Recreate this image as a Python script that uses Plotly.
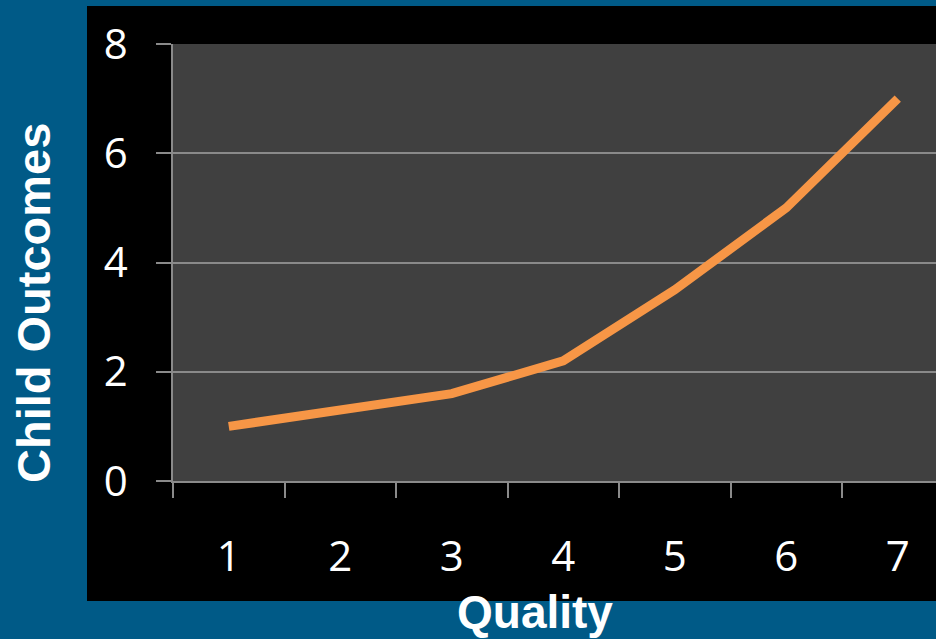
import plotly.graph_objects as go

quality = ["1", "2", "3", "4", "5", "6", "7"]
outcomes = [1.0, 1.3, 1.6, 2.2, 3.5, 5.0, 7.0]
y_ticks = [0, 2, 4, 6, 8]

W, H = 936, 639
L, R, T, B = 173, 0, 44, 158
pw, ph = W - L - R, H - T - B

def px_x(px):
    return (px - L) / pw

def px_y(py):
    return (H - B - py) / ph

fig = go.Figure()
fig.add_trace(go.Scatter(
    x=quality, y=outcomes, mode="lines",
    line=dict(color="#F79646", width=9),
    hoverinfo="skip", showlegend=False,
))

grid = "#8a8a8a"
fig.update_layout(
    width=W, height=H,
    margin=dict(l=L, r=R, t=T, b=B, pad=0),
    paper_bgcolor="#005A87",
    plot_bgcolor="rgba(0,0,0,0)",
    showlegend=False,
    shapes=[
        dict(type="rect", xref="paper", yref="paper", layer="below",
             x0=px_x(87), x1=px_x(940), y0=px_y(601), y1=px_y(6),
             fillcolor="#000000", line=dict(width=0)),
        dict(type="rect", xref="paper", yref="paper", layer="below",
             x0=0, x1=1.01, y0=0, y1=1,
             fillcolor="#404040", line=dict(width=0)),
    ],
    xaxis=dict(
        type="category", range=[-0.5, -0.5 + pw / 111.5],
        tickson="boundaries", ticks="outside", ticklen=15, tickwidth=1.5,
        tickcolor=grid, showline=True, linecolor=grid, linewidth=1.5,
        showgrid=False, zeroline=False,
        tickfont=dict(family="Open Sans", size=42, color="#ffffff"),
        ticklabelstandoff=38,
    ),
    yaxis=dict(
        range=[0, 8], tickvals=y_ticks, ticks="outside", ticklen=15,
        tickwidth=1.5, tickcolor=grid, showline=True, linecolor=grid,
        linewidth=1.5, showgrid=True, gridcolor=grid, gridwidth=1.5,
        zeroline=False,
        tickfont=dict(family="Open Sans", size=42, color="#ffffff"),
        ticklabelstandoff=20,
    ),
    annotations=[
        dict(text="<b>Child Outcomes</b>", xref="paper", yref="paper",
             x=px_x(33), y=px_y(303), textangle=-90, showarrow=False,
             xanchor="center", yanchor="middle",
             font=dict(family="Liberation Sans", size=47, color="#ffffff")),
        dict(text="<b>Quality</b>", xref="paper", yref="paper",
             x=px_x(535), y=px_y(612), showarrow=False,
             xanchor="center", yanchor="middle",
             font=dict(family="Liberation Sans", size=46, color="#ffffff")),
    ],
)

fig.write_html("out.html")
